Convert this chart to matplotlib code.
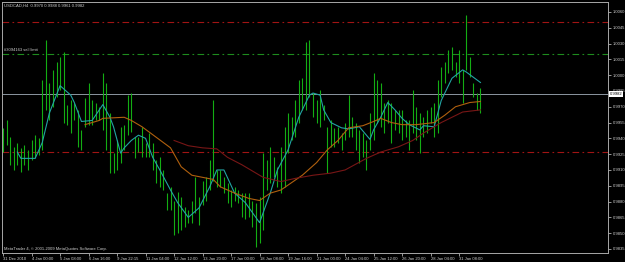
"""
USDCAD H4 bar chart, MetaTrader-style dark theme.
"""
import numpy as np
import matplotlib.pyplot as plt

# --- bar data (H4 bars, index = bar number) ---
bar_high = [
    0.9950, 0.9957, 0.9941, 0.9932, 0.9936, 0.9931, 0.9934, 0.9929, 0.9938, 0.9943,
    0.9940, 0.9995, 1.0033, 0.9993, 1.0005, 1.0012, 1.0017, 1.0022, 0.9972, 0.9976,
    0.9974, 0.9967, 0.9948, 0.9978, 0.9993, 0.9976, 0.9974, 0.9970, 1.0002, 0.9993,
    0.9964, 0.9926, 0.9938, 0.9951, 0.9953, 0.9981, 0.9983, 0.9941, 0.9941, 0.9951,
    0.9936, 0.9945, 0.9936, 0.9919, 0.9922, 0.9910, 0.9888, 0.9894, 0.9881, 0.9889,
    0.9884, 0.9875, 0.9872, 0.9881, 0.9903, 0.9884, 0.9900, 0.9903, 0.9919, 0.9976,
    0.9910, 0.9910, 0.9903, 0.9898, 0.9891, 0.9894, 0.9891, 0.9888, 0.9888, 0.9888,
    0.9881, 0.9879, 0.9884, 0.9926, 0.9919, 0.9932, 0.9922, 0.9913, 0.9932, 0.9951,
    0.9964, 0.9960, 0.9976, 0.9995, 0.9997, 1.0031, 1.0033, 0.9983, 0.9976, 0.9986,
    0.9972, 0.9951, 0.9957, 0.9950, 0.9951, 0.9945, 0.9955, 0.9981, 0.9960, 0.9955,
    0.9948, 0.9945, 0.9938, 0.9964, 1.0002, 0.9995, 0.9993, 0.9974, 0.9976, 0.9974,
    0.9967, 0.9967, 0.9967, 0.9957, 0.9957, 0.9986, 0.9970, 0.9964, 0.9960, 0.9967,
    0.9970, 0.9974, 0.9995, 1.0008, 1.0012, 1.0024, 1.0027, 1.0012, 1.0024, 1.0005,
    1.0057, 1.0017, 0.9993, 0.9983, 0.9988,
]
bar_low = [
    0.9927, 0.9934, 0.9915, 0.9910, 0.9915, 0.9908, 0.9915, 0.9910, 0.9919, 0.9921,
    0.9924, 0.9929, 0.9967, 0.9957, 0.9970, 0.9979, 0.9986, 0.9955, 0.9953, 0.9945,
    0.9957, 0.9932, 0.9929, 0.9951, 0.9953, 0.9953, 0.9957, 0.9957, 0.9948, 0.9929,
    0.9907, 0.9907, 0.9910, 0.9917, 0.9929, 0.9943, 0.9946, 0.9921, 0.9927, 0.9922,
    0.9922, 0.9922, 0.9910, 0.9898, 0.9894, 0.9891, 0.9872, 0.9872, 0.9848, 0.9850,
    0.9853, 0.9856, 0.9860, 0.9860, 0.9869, 0.9858, 0.9877, 0.9881, 0.9891, 0.9900,
    0.9894, 0.9894, 0.9888, 0.9879, 0.9875, 0.9881, 0.9879, 0.9865, 0.9863, 0.9865,
    0.9856, 0.9837, 0.9841, 0.9853, 0.9891, 0.9898, 0.9903, 0.9894, 0.9888, 0.9894,
    0.9926, 0.9938, 0.9941, 0.9955, 0.9967, 0.9967, 0.9979, 0.9960, 0.9955, 0.9951,
    0.9957, 0.9907, 0.9932, 0.9932, 0.9936, 0.9929, 0.9938, 0.9941, 0.9941, 0.9929,
    0.9917, 0.9922, 0.9910, 0.9929, 0.9938, 0.9955, 0.9951, 0.9945, 0.9955, 0.9936,
    0.9948, 0.9945, 0.9938, 0.9941, 0.9929, 0.9945, 0.9938, 0.9926, 0.9941, 0.9945,
    0.9955, 0.9941, 0.9945, 0.9979, 0.9993, 1.0002, 1.0005, 0.9998, 0.9993, 0.9974,
    1.0005, 0.9998, 0.9979, 0.9967, 0.9964,
]

# --- moving averages, read at selected bars ---
fast_ma_idx = [4, 5, 9, 11, 13, 16, 19, 20, 22, 25, 28, 30, 31, 33, 34, 36, 38, 40, 42, 44,
               47, 49, 52, 55, 58, 60, 62, 65, 68, 72, 75, 77, 80, 83, 86, 87, 89, 90, 92, 95,
               97, 100, 103, 104, 106, 108, 110, 112, 114, 117, 118, 121, 123, 126, 129, 130, 132, 134]
fast_ma = [0.9927, 0.9921, 0.9921, 0.9936, 0.9964, 0.9990, 0.9981, 0.9974, 0.9956, 0.9957,
           0.9972, 0.9960, 0.9951, 0.9926, 0.9931, 0.9938, 0.9943, 0.9940, 0.9922, 0.9910,
           0.9891, 0.9879, 0.9865, 0.9874, 0.9894, 0.9910, 0.9910, 0.9888, 0.9879, 0.9860,
           0.9888, 0.9910, 0.9929, 0.9960, 0.9981, 0.9983, 0.9981, 0.9967, 0.9955, 0.9950,
           0.9949, 0.9951, 0.9939, 0.9948, 0.9960, 0.9974, 0.9967, 0.9959, 0.9953, 0.9948,
           0.9952, 0.9951, 0.9976, 0.9997, 1.0005, 1.0003, 0.9998, 0.9993]

mid_ma_idx = [23, 27, 28, 34, 36, 39, 43, 47, 50, 53, 56, 59, 61, 65, 69, 72, 75, 78, 84, 88,
              91, 94, 97, 101, 104, 106, 109, 112, 116, 121, 124, 127, 131, 134]
mid_ma = [0.9953, 0.9957, 0.9959, 0.9960, 0.9957, 0.9951, 0.9941, 0.9931, 0.9913, 0.9905,
          0.9903, 0.9901, 0.9894, 0.9888, 0.9883, 0.9881, 0.9888, 0.9891, 0.9905, 0.9917,
          0.9929, 0.9938, 0.9950, 0.9952, 0.9956, 0.9959, 0.9955, 0.9953, 0.9953, 0.9955,
          0.9962, 0.9970, 0.9974, 0.9975]

slow_ma_idx = [48, 52, 56, 60, 63, 67, 73, 78, 82, 87, 92, 96, 102, 106, 111, 115, 118, 123, 129, 134]
slow_ma = [0.9938, 0.9933, 0.9931, 0.9930, 0.9922, 0.9915, 0.9903, 0.9899, 0.9902, 0.9905,
           0.9907, 0.9910, 0.9921, 0.9927, 0.9932, 0.9938, 0.9945, 0.9955, 0.9965, 0.9967]

# --- horizontal levels ---
red_levels = [1.0050, 0.9927]
sell_limit = 1.0020
last_price = 0.9982

# --- axis labels ---
price_ticks = [0.9835, 0.9850, 0.9865, 0.9880, 0.9895, 0.9910, 0.9925, 0.9940,
               0.9955, 0.9970, 0.9985, 1.0000, 1.0015, 1.0030, 1.0045, 1.0060]
time_tick_idx = [0, 8, 16, 24, 32, 40, 48, 56, 64, 72, 80, 88, 96, 104, 112, 120, 128]
time_labels = ['31 Dec 2010', '4 Jan 00:00', '5 Jan 08:00', '6 Jan 16:00', '9 Jan 22:15',
               '11 Jan 04:00', '12 Jan 12:00', '13 Jan 20:00', '17 Jan 00:00', '18 Jan 08:00',
               '19 Jan 16:00', '21 Jan 00:00', '24 Jan 04:00', '25 Jan 12:00', '26 Jan 20:00',
               '28 Jan 04:00', '31 Jan 08:00']

plt.rcParams['font.family'] = ['Liberation Sans', 'DejaVu Sans']

W, H = 625, 262
fig = plt.figure(figsize=(W / 100, H / 100), dpi=100, facecolor='black')
ax = fig.add_axes([2 / W, 9 / H, 606 / W, 251 / H], facecolor='black')

txt = '#d0d0d0'
fs = 3.0

idx = np.arange(len(bar_high))
ax.vlines(idx, bar_low, bar_high, color='#13ad13', lw=0.8, zorder=3)

ax.plot(fast_ma_idx, fast_ma, color='#22a4a4', lw=0.8, zorder=4)
ax.plot(mid_ma_idx, mid_ma, color='#b0600e', lw=0.8, zorder=4)
ax.plot(slow_ma_idx, slow_ma, color='#781616', lw=0.8, zorder=4)

for lv in red_levels:
    ax.axhline(lv, color='#a01414', lw=0.8, ls='-.', dashes=(6, 3, 1.5, 3), zorder=2)
ax.axhline(sell_limit, color='#1e8c1e', lw=0.8, ls='-.', dashes=(6, 3, 1.5, 3), zorder=2)
ax.axhline(last_price, color='#8c96a0', lw=0.7, zorder=2)

ax.text(0.4, sell_limit + 0.0002, '#3094163 sell limit', color=txt, fontsize=fs,
        va='bottom', ha='left')
ax.text(0.004, 0.993, 'USDCAD,H4  0.9970 0.9988 0.9961 0.9982', color=txt, fontsize=fs,
        va='top', ha='left', transform=ax.transAxes)
ax.text(0.004, 0.006, 'MetaTrader 4, \u00a9 2001-2009 MetaQuotes Software Corp.', color=txt,
        fontsize=fs, va='bottom', ha='left', transform=ax.transAxes)

ax.set_xlim(-0.3, -0.3 + 606 / 3.5625)
ax.set_ylim(0.98312, 1.00694)

ax.yaxis.tick_right()
ax.set_yticks(price_ticks)
ax.set_yticklabels([f'{p:.4f}' for p in price_ticks])
ax.tick_params(axis='y', colors='#b0b0b0', labelcolor=txt, labelsize=fs, length=2,
               width=0.6, pad=1.2)
ax.set_xticks(time_tick_idx)
ax.set_xticklabels(time_labels, ha='left')
ax.tick_params(axis='x', colors='#b0b0b0', labelcolor=txt, labelsize=fs, length=2,
               width=0.6, pad=0.8)

for s in ax.spines.values():
    s.set_color('#a8a8a8')
    s.set_linewidth(0.7)

# current price marker on the price scale
ax.text(1.003, last_price, f'{last_price:.4f}', transform=ax.get_yaxis_transform(),
        color='black', fontsize=fs, va='center', ha='left',
        bbox=dict(boxstyle='square,pad=0.2', facecolor='white', edgecolor='none'))

fig.savefig('out.png', dpi=100, facecolor='black')
